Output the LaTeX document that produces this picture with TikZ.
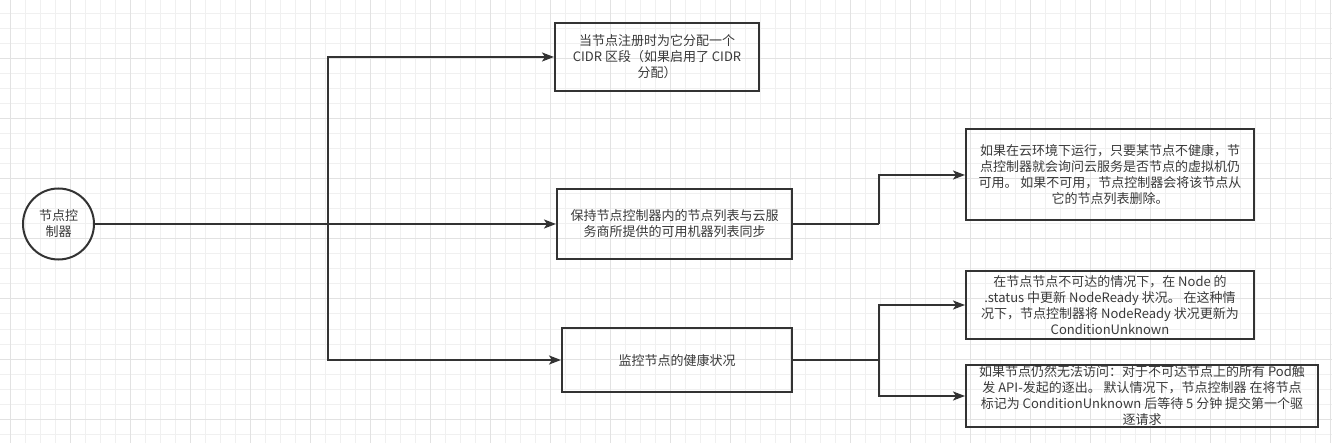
\documentclass[tikz,border=0pt]{standalone}
\usepackage{fontspec}
\setmainfont{Noto Sans CJK SC}
\usetikzlibrary{arrows.meta}
\definecolor{ink}{HTML}{333333}
\definecolor{txt}{HTML}{3A3A3A}
\definecolor{gridminor}{HTML}{F0F0F0}
\definecolor{gridmajor}{HTML}{E2E2E2}
\tikzset{
  box/.style={draw=ink, line width=2pt, rectangle, inner sep=0pt, align=center,
    text=txt, font=\fontsize{13}{16}\selectfont},
  ctrl/.style={draw=ink, line width=2pt, circle, inner sep=0pt, minimum size=71pt, align=center,
    text=txt, font=\fontsize{13}{16}\selectfont},
  conn/.style={draw=ink, line width=2pt, -{Stealth[length=12pt,width=9pt,inset=3pt]}},
  plain/.style={draw=ink, line width=2pt}
}
\begin{document}
\begin{tikzpicture}[x=1pt,y=-1pt]
\useasboundingbox (0,0) rectangle (1332,443);
\fill[white] (0,0) rectangle (1332,443);
% grid
\foreach \i in {0,...,89} {
  \pgfmathsetmacro{\xx}{-4.3+15*\i}
  \draw[gridminor, line width=1pt] (\xx,0) -- (\xx,443);
}
\foreach \j in {0,...,30} {
  \pgfmathsetmacro{\yy}{-1+15*\j}
  \draw[gridminor, line width=1pt] (0,\yy) -- (1332,\yy);
}
\foreach \i in {0,...,22} {
  \pgfmathsetmacro{\xx}{10.7+60*\i}
  \draw[gridmajor, line width=1pt] (\xx,0) -- (\xx,443);
}
\foreach \j in {0,...,7} {
  \pgfmathsetmacro{\yy}{-1+60*\j}
  \draw[gridmajor, line width=1pt] (0,\yy) -- (1332,\yy);
}
% nodes
\node[ctrl] (c) at (58.5,224) {节点控\\制器};
\node[box, minimum width=204pt, minimum height=68pt] (b1) at (657,57)
  {当节点注册时为它分配一个\\CIDR 区段（如果启用了 CIDR\\分配）};
\node[box, minimum width=235pt, minimum height=70pt] (b2) at (674.5,224)
  {保持节点控制器内的节点列表与云服\\务商所提供的可用机器列表同步};
\node[box, minimum width=230pt, minimum height=64pt] (b3) at (677,360)
  {监控节点的健康状况};
\node[box, minimum width=288pt, minimum height=91pt] (b4) at (1110,175)
  {如果在云环境下运行，只要某节点不健康，节\\点控制器就会询问云服务是否节点的虚拟机仍\\可用。 如果不可用，节点控制器会将该节点从\\它的节点列表删除。};
\node[box, minimum width=288pt, minimum height=68pt] (b5) at (1110,305)
  {在节点节点不可达的情况下，在 Node 的\\.status 中更新 NodeReady 状况。 在这种情\\况下，节点控制器将 NodeReady 状况更新为\\ConditionUnknown};
\node[box, minimum width=352pt, minimum height=62pt] (b6) at (1142,396)
  {如果节点仍然无法访问：对于不可达节点上的所有 Pod触\\发 API-发起的逐出。 默认情况下，节点控制器 在将节点\\标记为 ConditionUnknown 后等待 5 分钟 提交第一个驱\\逐请求};
% junctions
\coordinate (t) at (328,224);
\coordinate (j1) at (879,224);
\coordinate (j2) at (879,360);
% connectors
\draw[conn] (c.east) -- (b2.west);
\draw[conn] (t) |- (b1.west);
\draw[conn] (t) |- (b3.west);
\draw[plain] (b2.east) -- (j1);
\draw[conn] (j1) |- (b4.west);
\draw[plain] (b3.east) -- (j2);
\draw[conn] (j2) |- (b5.west);
\draw[conn] (j2) |- (b6.west);
\end{tikzpicture}
\end{document}
